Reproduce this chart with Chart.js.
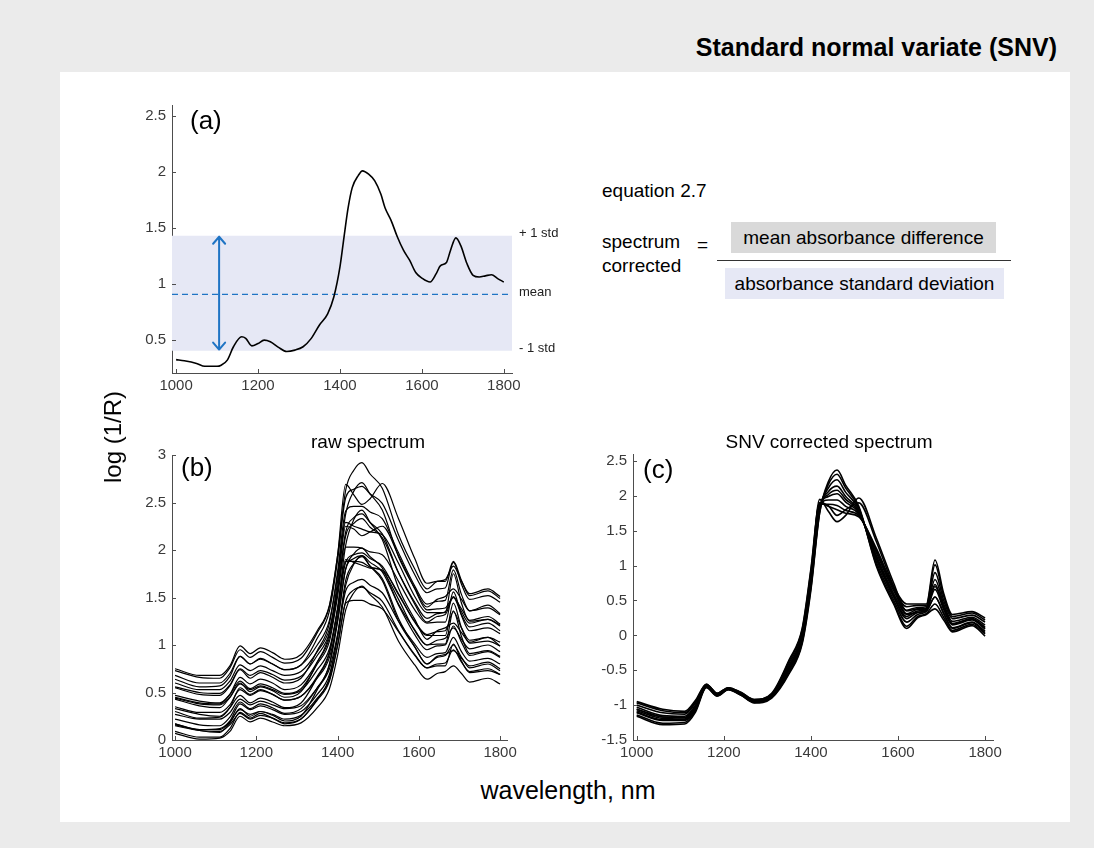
<!DOCTYPE html>
<html><head><meta charset="utf-8">
<script src="https://cdn.jsdelivr.net/npm/chart.js@4.4.1/dist/chart.umd.min.js"></script>
<style>
html,body{margin:0;padding:0;}
body{width:1094px;height:848px;background:#ebebeb;position:relative;overflow:hidden;font-family:"Liberation Sans",Arial,Helvetica,sans-serif;color:#000;}
#panel{position:absolute;left:60px;top:72px;width:1010px;height:750px;background:#fff;}
.t{position:absolute;white-space:nowrap;line-height:1;}
.cc{transform:translate(-50%,-50%);}
.lc{transform:translateY(-50%);}
canvas{position:absolute;}
.box{position:absolute;display:flex;align-items:center;justify-content:center;font-size:19px;line-height:1;white-space:nowrap;}
</style></head><body>
<div id="panel"></div>
<div class="t" style="right:37px;top:47px;transform:translateY(-50%);font-weight:bold;font-size:25px;">Standard normal variate (SNV)</div>

<canvas id="ca" width="500" height="310" style="left:100px;top:90px;width:500px;height:310px;"></canvas>
<canvas id="cb" width="430" height="340" style="left:100px;top:430px;width:430px;height:340px;"></canvas>
<canvas id="cc" width="460" height="340" style="left:560px;top:430px;width:460px;height:340px;"></canvas>

<div class="t lc" style="left:190px;top:120px;font-size:26px;">(a)</div>
<div class="t lc" style="left:181px;top:467px;font-size:26px;">(b)</div>
<div class="t lc" style="left:643px;top:469px;font-size:26px;">(c)</div>
<div class="t cc" style="left:368px;top:441px;font-size:19px;">raw spectrum</div>
<div class="t cc" style="left:829px;top:441px;font-size:19px;">SNV corrected spectrum</div>
<div class="t" style="left:113px;top:437px;font-size:24px;transform:translate(-50%,-50%) rotate(-90deg);">log (1/R)</div>
<div class="t cc" style="left:568px;top:790px;font-size:25px;">wavelength, nm</div>

<div class="t lc" style="left:602px;top:190px;font-size:19px;">equation 2.7</div>
<div class="t lc" style="left:602px;top:241px;font-size:19px;">spectrum</div>
<div class="t lc" style="left:602px;top:265px;font-size:19px;">corrected</div>
<div class="t lc" style="left:697px;top:244px;font-size:19px;">=</div>
<div class="box" style="left:731px;top:222px;width:265px;height:31px;background:#d9d9d9;">mean absorbance difference</div>
<div style="position:absolute;left:717px;top:260px;width:294px;height:1px;background:#333;"></div>
<div class="box" style="left:725px;top:268px;width:279px;height:31px;background:#e6e8f5;">absorbance standard deviation</div>

<script>
// ---------- panel (a): single raw spectrum ----------
const specWavelengths = [1000,1020,1050,1070,1100,1110,1125,1140,1160,1170,1185,1200,1215,1230,1250,1270,1290,1310,1330,1350,1370,1385,1400,1410,1420,1430,1445,1455,1470,1485,1500,1510,1525,1540,1555,1570,1585,1600,1620,1635,1645,1660,1670,1683,1695,1710,1725,1740,1755,1770,1785,1800];
const specAbsorbance = [0.32,0.31,0.286,0.26,0.26,0.27,0.315,0.435,0.524,0.51,0.443,0.464,0.494,0.48,0.43,0.393,0.405,0.435,0.51,0.63,0.73,0.88,1.15,1.42,1.68,1.86,1.97,2.01,1.98,1.92,1.80,1.68,1.565,1.42,1.30,1.21,1.10,1.05,1.015,1.09,1.16,1.19,1.30,1.41,1.34,1.18,1.075,1.06,1.07,1.08,1.045,1.015];
const specMean = 0.905;
const specStdUpper = 1.43;
const specStdLower = 0.40;
const arrowWavelength = 1105;
const stdLabels = ['+ 1 std', 'mean', '- 1 std'];
const ticksAx = [1000,1200,1400,1600,1800];
const ticksAy = [0.5,1,1.5,2,2.5];

// ---------- panel (b) & (c): wavelength grid ----------
const wl = [1000,1060,1110,1135,1160,1185,1210,1240,1270,1310,1350,1380,1400,1420,1440,1460,1480,1510,1550,1590,1620,1645,1665,1685,1705,1725,1770,1800];

// raw spectra (b)
const raw01 = [0.75,0.68,0.68,0.78,0.99,0.91,0.97,0.92,0.85,0.90,1.15,1.42,1.94,2.63,2.84,2.92,2.80,2.65,2.16,1.80,1.59,1.67,1.69,1.83,1.67,1.54,1.59,1.51];
const raw02 = [0.73,0.66,0.65,0.76,0.95,0.87,0.93,0.87,0.81,0.86,1.13,1.41,1.94,2.69,2.58,2.48,2.54,2.70,2.33,1.91,1.65,1.67,1.67,1.88,1.68,1.52,1.57,1.49];
const raw03 = [0.64,0.56,0.57,0.67,0.88,0.80,0.85,0.80,0.74,0.79,1.00,1.26,1.73,2.38,2.62,2.71,2.59,2.42,1.93,1.60,1.40,1.48,1.51,1.59,1.48,1.36,1.42,1.33];
const raw04 = [0.55,0.48,0.47,0.57,0.74,0.65,0.71,0.66,0.60,0.65,0.94,1.23,1.77,2.41,2.46,2.46,2.40,2.33,1.97,1.62,1.43,1.46,1.47,1.79,1.53,1.36,1.39,1.32];
const raw05 = [0.30,0.23,0.24,0.34,0.55,0.48,0.53,0.48,0.42,0.46,0.67,0.93,1.39,2.05,2.32,2.42,2.29,2.11,1.60,1.27,1.06,1.15,1.18,1.23,1.13,1.03,1.08,0.99];
const raw06 = [0.45,0.39,0.38,0.48,0.66,0.59,0.64,0.60,0.53,0.58,0.82,1.08,1.56,2.19,2.34,2.38,2.29,2.17,1.76,1.43,1.24,1.30,1.32,1.50,1.32,1.19,1.23,1.15];
const raw07 = [0.44,0.38,0.37,0.45,0.59,0.53,0.57,0.53,0.48,0.52,0.74,0.96,1.37,1.87,1.95,1.97,1.91,1.83,1.53,1.25,1.11,1.14,1.15,1.35,1.18,1.05,1.08,1.03];
const raw08 = [0.47,0.41,0.39,0.48,0.62,0.54,0.59,0.55,0.49,0.54,0.80,1.04,1.51,2.03,2.03,2.02,1.98,1.95,1.67,1.37,1.23,1.24,1.24,1.56,1.31,1.15,1.18,1.12];
const raw09 = [0.35,0.29,0.29,0.37,0.53,0.47,0.52,0.48,0.42,0.46,0.65,0.87,1.26,1.80,1.96,2.02,1.93,1.81,1.43,1.16,1.00,1.05,1.07,1.18,1.06,0.96,1.00,0.93];
const raw10 = [0.22,0.16,0.15,0.24,0.40,0.33,0.38,0.34,0.28,0.33,0.55,0.79,1.24,1.80,1.91,1.94,1.87,1.77,1.42,1.11,0.95,0.99,1.00,1.20,1.03,0.89,0.93,0.87];
const raw11 = [0.27,0.22,0.22,0.29,0.43,0.37,0.41,0.37,0.33,0.36,0.55,0.75,1.11,1.57,1.66,1.69,1.63,1.55,1.25,1.01,0.87,0.91,0.92,1.08,0.93,0.83,0.86,0.80];
const raw12 = [0.33,0.27,0.25,0.34,0.47,0.39,0.44,0.40,0.34,0.39,0.66,0.91,1.37,1.90,1.87,1.84,1.81,1.79,1.54,1.24,1.10,1.10,1.10,1.44,1.18,1.02,1.04,0.99];
const raw13 = [0.16,0.11,0.11,0.19,0.32,0.27,0.30,0.27,0.22,0.26,0.44,0.64,1.00,1.46,1.58,1.61,1.55,1.46,1.15,0.90,0.76,0.80,0.81,0.95,0.82,0.72,0.75,0.69];
const raw14 = [0.15,0.10,0.09,0.16,0.28,0.22,0.26,0.23,0.18,0.22,0.42,0.62,0.99,1.44,1.47,1.47,1.43,1.38,1.14,0.89,0.76,0.78,0.78,1.01,0.83,0.71,0.73,0.69];
const raw15 = [0.07,0.01,0.02,0.09,0.25,0.19,0.23,0.19,0.15,0.18,0.34,0.54,0.89,1.37,1.55,1.62,1.53,1.40,1.04,0.79,0.64,0.70,0.72,0.78,0.70,0.61,0.65,0.59];
const raw16 = [0.68,0.60,0.60,0.70,0.88,0.80,0.86,0.80,0.74,0.79,1.07,1.36,1.89,2.55,2.64,2.67,2.59,2.49,2.10,1.74,1.55,1.59,1.60,1.87,1.64,1.48,1.52,1.45];
const raw17 = [0.17,0.10,0.08,0.18,0.33,0.25,0.30,0.26,0.20,0.25,0.53,0.80,1.30,1.88,1.88,1.87,1.82,1.78,1.48,1.15,1.00,1.01,1.01,1.36,1.09,0.91,0.94,0.88];
const raw18 = [0.09,0.03,0.03,0.12,0.29,0.23,0.28,0.23,0.17,0.22,0.43,0.66,1.10,1.68,1.86,1.93,1.83,1.70,1.28,0.98,0.80,0.87,0.89,1.00,0.87,0.76,0.80,0.73];
const raw19 = [0.56,0.50,0.49,0.58,0.75,0.68,0.73,0.69,0.63,0.67,0.89,1.13,1.57,2.15,2.28,2.33,2.24,2.13,1.76,1.45,1.28,1.33,1.35,1.51,1.35,1.23,1.27,1.20];
const raw20 = [0.60,0.53,0.53,0.62,0.79,0.73,0.78,0.73,0.68,0.72,0.93,1.17,1.61,2.25,2.22,2.15,2.19,2.25,1.94,1.59,1.37,1.38,1.39,1.50,1.38,1.26,1.30,1.22];
const raw21 = [0.17,0.11,0.12,0.20,0.38,0.32,0.36,0.32,0.27,0.30,0.48,0.69,1.08,1.63,1.85,1.94,1.83,1.68,1.25,0.98,0.80,0.88,0.90,0.94,0.86,0.78,0.82,0.75];
const raw22 = [0.43,0.36,0.34,0.45,0.60,0.51,0.56,0.52,0.45,0.51,0.82,1.12,1.67,2.29,2.25,2.22,2.19,2.16,1.86,1.51,1.34,1.34,1.34,1.75,1.44,1.25,1.27,1.21];
const ticksBx = [1000,1200,1400,1600,1800];
const ticksBy = [0,0.5,1,1.5,2,2.5,3];

// SNV corrected spectra (c)
const snv01 = [-1.16,-1.28,-1.27,-1.10,-0.75,-0.87,-0.78,-0.86,-0.97,-0.90,-0.55,-0.12,0.65,1.75,2.20,2.37,2.15,1.85,1.00,0.45,0.10,0.25,0.30,0.38,0.22,0.05,0.14,-0.01];
const snv02 = [-1.14,-1.26,-1.25,-1.08,-0.74,-0.87,-0.78,-0.86,-0.96,-0.89,-0.53,-0.10,0.68,1.76,2.16,2.31,2.11,1.83,1.02,0.47,0.13,0.27,0.31,0.45,0.26,0.07,0.16,0.02];
const snv03 = [-1.11,-1.22,-1.22,-1.06,-0.74,-0.86,-0.77,-0.85,-0.96,-0.88,-0.50,-0.07,0.72,1.79,2.11,2.23,2.05,1.81,1.06,0.51,0.19,0.30,0.34,0.55,0.31,0.11,0.19,0.06];
const snv04 = [-1.08,-1.19,-1.20,-1.03,-0.73,-0.85,-0.77,-0.84,-0.95,-0.87,-0.47,-0.03,0.77,1.81,2.06,2.14,1.99,1.79,1.10,0.55,0.24,0.33,0.36,0.66,0.37,0.15,0.22,0.09];
const snv05 = [-1.06,-1.17,-1.18,-1.02,-0.72,-0.85,-0.76,-0.84,-0.94,-0.86,-0.45,-0.01,0.80,1.82,2.02,2.08,1.95,1.77,1.12,0.57,0.27,0.35,0.37,0.73,0.41,0.17,0.24,0.12];
const snv06 = [-1.03,-1.15,-1.16,-1.00,-0.72,-0.85,-0.76,-0.84,-0.94,-0.86,-0.43,0.01,0.83,1.84,1.99,2.03,1.91,1.76,1.15,0.60,0.31,0.37,0.39,0.80,0.45,0.20,0.26,0.15];
const snv07 = [-1.00,-1.11,-1.13,-0.97,-0.71,-0.84,-0.76,-0.83,-0.93,-0.85,-0.40,0.04,0.87,1.86,1.94,1.94,1.85,1.74,1.19,0.64,0.36,0.40,0.41,0.90,0.50,0.24,0.29,0.19];
const snv08 = [-0.97,-1.08,-1.11,-0.95,-0.70,-0.83,-0.75,-0.82,-0.92,-0.84,-0.37,0.08,0.92,1.88,1.88,1.86,1.79,1.72,1.22,0.67,0.41,0.43,0.43,1.01,0.56,0.27,0.32,0.22];
const snv09 = [-0.95,-1.06,-1.09,-0.93,-0.70,-0.83,-0.75,-0.82,-0.92,-0.83,-0.35,0.10,0.95,1.90,1.85,1.80,1.75,1.70,1.25,0.70,0.45,0.45,0.45,1.08,0.60,0.30,0.34,0.25];
const snv10 = [-1.06,-1.17,-1.18,-1.02,-0.72,-0.85,-0.76,-0.84,-0.94,-0.86,-0.45,-0.01,0.80,1.95,1.78,1.63,1.72,1.97,1.40,0.75,0.35,0.38,0.38,0.70,0.40,0.16,0.23,0.10];
const snv11 = [-1.10,-1.21,-1.21,-1.05,-0.74,-0.86,-0.77,-0.85,-0.95,-0.88,-0.49,-0.06,0.74,1.90,1.86,1.72,1.80,1.90,1.35,0.70,0.30,0.33,0.35,0.55,0.32,0.10,0.18,0.04];
const ticksCx = [1000,1200,1400,1600,1800];
const ticksCy = [-1.5,-1,-0.5,0,0.5,1,1.5,2,2.5];

const rawSpectra = [raw01,raw02,raw03,raw04,raw05,raw06,raw07,raw08,raw09,raw10,raw11,raw12,raw13,raw14,raw15,raw16,raw17,raw18,raw19,raw20,raw21,raw22];
const snvSpectra = [snv01,snv02,snv03,snv04,snv05,snv06,snv07,snv08,snv09,snv10,snv11];

// ---------- styling ----------
const FONT = '"Liberation Sans", Arial, Helvetica, sans-serif';
Chart.defaults.font.family = FONT;
const AXIS_COLOR = '#4d4d4d';
const LABEL_COLOR = '#3a3a3a';
const BLUE = '#1f74c4';

function makeScales(xr, yr, xt, yt, yW, xH) {
  const tickFont = {size: 15, family: FONT};
  return {
    x: {
      type: 'linear', min: xr[0], max: xr[1],
      afterBuildTicks: s => { s.ticks = xt.map(v => ({value: v})); },
      afterFit: s => { s.height = xH; },
      grid: {display: false, drawTicks: false},
      border: {display: true, color: AXIS_COLOR, width: 1},
      ticks: {callback: v => String(v), font: tickFont, color: LABEL_COLOR, padding: 4, maxRotation: 0, autoSkip: false}
    },
    y: {
      type: 'linear', min: yr[0], max: yr[1],
      afterBuildTicks: s => { s.ticks = yt.map(v => ({value: v})); },
      afterFit: s => { s.width = yW; },
      grid: {display: false, drawTicks: false},
      border: {display: true, color: AXIS_COLOR, width: 1},
      ticks: {callback: v => String(v), font: tickFont, color: LABEL_COLOR, padding: 6, autoSkip: false}
    }
  };
}

const inwardTicks = {
  id: 'inwardTicks',
  afterDraw(chart) {
    const {ctx, chartArea: a, scales: {x, y}} = chart;
    ctx.save();
    ctx.strokeStyle = AXIS_COLOR; ctx.lineWidth = 1;
    ctx.beginPath();
    x.ticks.forEach(t => { const p = Math.round(x.getPixelForValue(t.value)) + 0.5; ctx.moveTo(p, a.bottom); ctx.lineTo(p, a.bottom - 4); });
    y.ticks.forEach(t => { const p = Math.round(y.getPixelForValue(t.value)) + 0.5; ctx.moveTo(a.left, p); ctx.lineTo(a.left + 4, p); });
    ctx.stroke();
    ctx.restore();
  }
};

const stdMarks = {
  id: 'stdMarks',
  afterDatasetsDraw(chart) {
    const {ctx, scales: {x, y}} = chart;
    const px = x.getPixelForValue(arrowWavelength);
    const yTop = y.getPixelForValue(specStdUpper - 0.01);
    const yBot = y.getPixelForValue(specStdLower + 0.01);
    ctx.save();
    ctx.strokeStyle = BLUE; ctx.lineWidth = 2; ctx.lineCap = 'round'; ctx.lineJoin = 'round';
    ctx.beginPath();
    ctx.moveTo(px, yTop); ctx.lineTo(px, yBot);
    ctx.moveTo(px - 6, yTop + 7); ctx.lineTo(px, yTop); ctx.lineTo(px + 6, yTop + 7);
    ctx.moveTo(px - 6, yBot - 7); ctx.lineTo(px, yBot); ctx.lineTo(px + 6, yBot - 7);
    ctx.stroke();
    ctx.restore();
  },
  afterDraw(chart) {
    const {ctx, chartArea: a, scales: {y}} = chart;
    const vals = [specStdUpper, specMean, specStdLower];
    ctx.save();
    ctx.font = '13px ' + FONT; ctx.fillStyle = '#222';
    ctx.textAlign = 'left'; ctx.textBaseline = 'middle';
    vals.forEach((v, i) => ctx.fillText(stdLabels[i], a.right + 7, y.getPixelForValue(v) - 2));
    ctx.restore();
  }
};

const baseOpts = (scales, padding) => ({
  responsive: false, animation: false, devicePixelRatio: 1,
  layout: {padding},
  plugins: {legend: {display: false}, tooltip: {enabled: false}},
  elements: {point: {radius: 0}},
  scales
});

// (a)
new Chart(document.getElementById('ca'), {
  type: 'line',
  data: {datasets: [
    {data: specWavelengths.map((w, i) => ({x: w, y: specAbsorbance[i]})), borderColor: '#000', borderWidth: 1.6, cubicInterpolationMode: 'monotone', fill: false},
    {data: [{x: 990, y: specMean}, {x: 1820, y: specMean}], borderColor: BLUE, borderWidth: 1.2, borderDash: [6, 4], fill: false},
    {data: [{x: 990, y: specStdUpper}, {x: 1820, y: specStdUpper}], borderWidth: 0, borderColor: 'rgba(0,0,0,0)', backgroundColor: '#e6e8f5', fill: {value: specStdLower}}
  ]},
  options: baseOpts(makeScales([990, 1820], [0.2, 2.6], ticksAx, ticksAy, 72, 27), {top: 14, right: 88, left: 0, bottom: 0}),
  plugins: [inwardTicks, stdMarks]
});

// (b)
new Chart(document.getElementById('cb'), {
  type: 'line',
  data: {datasets: rawSpectra.map(s => ({data: wl.map((w, i) => ({x: w, y: s[i]})), borderColor: '#000', borderWidth: 1.2, cubicInterpolationMode: 'monotone', fill: false}))},
  options: baseOpts(makeScales([992.5, 1817], [0, 3], ticksBx, ticksBy, 72, 30), {top: 25, right: 23, left: 0, bottom: 0}),
  plugins: [inwardTicks]
});

// (c)
new Chart(document.getElementById('cc'), {
  type: 'line',
  data: {datasets: snvSpectra.map(s => ({data: wl.map((w, i) => ({x: w, y: s[i]})), borderColor: '#000', borderWidth: 1.6, cubicInterpolationMode: 'monotone', fill: false}))},
  options: baseOpts(makeScales([991.5, 1818.2], [-1.5, 2.6], ticksCx, ticksCy, 73, 30), {top: 24, right: 27, left: 0, bottom: 0}),
  plugins: [inwardTicks]
});
</script>
</body></html>
